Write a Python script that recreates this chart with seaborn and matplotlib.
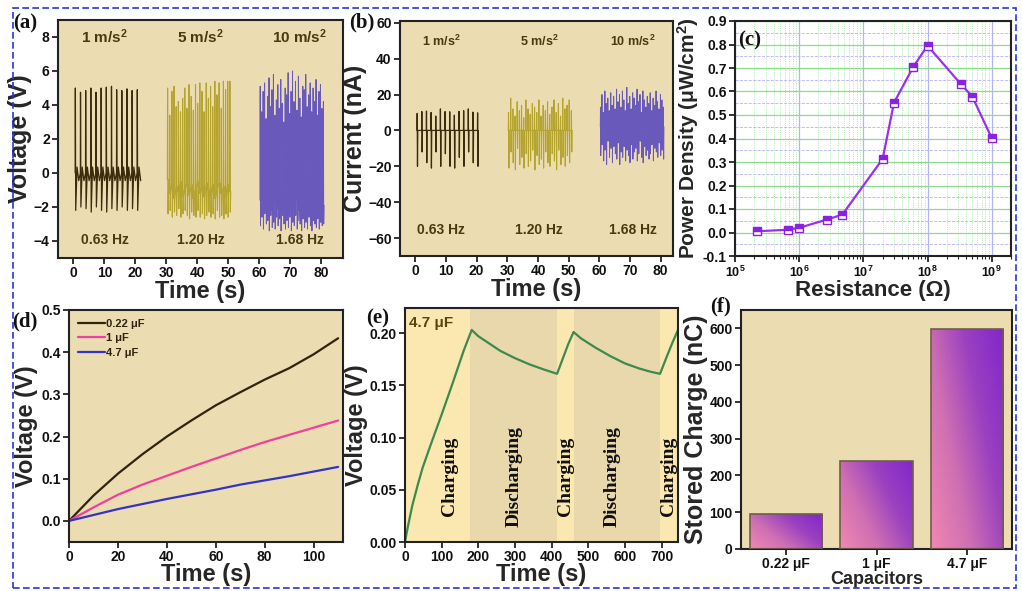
import numpy as np
import pandas as pd
import matplotlib
matplotlib.use("Agg")
import matplotlib.pyplot as plt
import seaborn as sns
from matplotlib.patches import Rectangle
from matplotlib.ticker import MultipleLocator, FormatStrFormatter, LogLocator, NullFormatter
from matplotlib.colors import LinearSegmentedColormap

# ---------------- data ----------------
acc_labels = ["1 m/s$^\\mathbf{2}$", "5 m/s$^\\mathbf{2}$", "10 m/s$^\\mathbf{2}$"]
freq_labels = ["0.63 Hz", "1.20 Hz", "1.68 Hz"]
label_time = [10, 41, 73]

# (a) voltage bursts
a1_peaks = [5.0, 4.75, 4.85, 5.0, 4.75, 5.0, 5.05, 5.1, 4.9, 4.85, 4.95, 4.85, 4.9]
a1_troughs = [-2.2, -2.0, -2.1, -2.3, -2.0, -2.2, -2.3, -2.1, -2.2, -2.0, -2.2, -2.1, -2.2]
a2_peaks = [5.0, 3.4, 4.8, 5.1, 3.9, 4.2, 3.6, 4.4, 5.0, 3.8, 5.2, 4.5, 3.7, 5.2, 4.1,
            5.3, 4.8, 3.6, 5.3, 4.4, 5.1, 3.9, 5.4, 4.6, 5.3, 3.8, 5.4, 4.9, 5.4, 5.4]
a2_troughs = [-2.4, -2.2, -2.6, -2.3, -2.5, -2.1, -2.6, -2.4, -2.2, -2.5, -2.7, -2.3, -2.5, -2.6, -2.2,
              -2.6, -2.4, -2.7, -2.5, -2.3, -2.6, -2.4, -2.7, -2.2, -2.6, -2.5, -2.7, -2.4, -2.6, -2.3]
a2_base = [-0.4, -1.2, -0.6, -1.5, -0.8, -1.1, -0.5, -1.4, -0.9, -0.6, -1.3, -0.7, -1.5, -0.9, -0.5,
           -1.2, -0.8, -1.4, -0.6, -1.0, -1.3, -0.7, -1.5, -0.9, -0.6, -1.2, -0.8, -1.4, -0.7, -1.1]
a3_peaks = [5.1, 3.6, 4.8, 5.3, 3.2, 4.5, 5.6, 3.9, 4.9, 5.8, 3.4, 4.3, 5.2, 3.8, 5.5, 4.1, 3.0, 5.0,
            4.6, 5.9, 3.5, 4.8, 6.0, 4.2, 5.4, 3.7, 5.7, 4.4, 3.3, 5.1, 4.9, 5.8, 3.9, 4.6, 5.3, 3.6,
            5.0, 4.2, 5.5, 3.4, 4.8, 5.2, 3.8, 4.2]
a3_troughs = [-3.1, -2.6, -3.3, -2.4, -3.0, -2.8, -3.4, -2.5, -3.2, -2.9, -3.3, -2.6, -3.1, -2.7, -3.4,
              -2.5, -3.0, -3.3, -2.8, -3.2, -2.6, -3.4, -2.9, -3.1, -2.5, -3.3, -2.8, -3.0, -3.4, -2.7,
              -3.2, -2.9, -3.3, -2.6, -3.1, -3.4, -2.8, -3.0, -3.2, -2.7, -3.3, -2.9, -3.1, -3.0]
a3_base = [-1.6, -0.8, -2.0, -1.2, -0.6, -1.9, -1.4, -0.9, -2.2, -1.1, -1.7, -0.7, -2.1, -1.3, -0.9,
           -1.8, -1.5, -2.3, -1.0, -1.6, -0.8, -2.0, -1.2, -1.9, -0.7, -1.5, -2.2, -1.1, -1.7, -0.9,
           -2.0, -1.3, -1.6, -0.8, -2.1, -1.4, -1.0, -1.8, -1.2, -2.0, -0.9, -1.6, -1.3, -1.9]

# (b) current bursts
b1_peaks = [9.5, 10.5, 10.8, 10.0, 8.0, 12.0, 10.5, 10.4, 8.5, 10.6, 11.0, 12.0, 10.2, 9.8]
b1_troughs = [-20, -12, -18, -21, -12, -20, -13, -20, -21, -15, -20, -12, -18, -20]
b2_peaks = [10, 18, 12, 8, 16, 11, 14, 7, 17, 12, 9, 15, 13, 10, 17, 8, 14, 11, 16, 9,
            13, 17, 10, 15, 8, 18, 12, 14, 17, 11]
b2_troughs = [-21, -12, -18, -22, -10, -19, -15, -21, -13, -20, -17, -11, -22, -14, -19,
              -16, -21, -12, -18, -20, -13, -17, -22, -11, -19, -15, -20, -14, -18, -12]
b3_peaks = [13, 20, 10, 22, 15, 18, 11, 21, 14, 19, 12, 23, 16, 20, 13, 22, 17, 11, 24, 15, 19, 12,
            21, 18, 14, 23, 16, 20, 10, 22, 17, 13, 19, 15, 21, 11, 18, 14, 22, 16, 12, 20, 17, 13]
b3_troughs = [-14, -8, -17, -11, -19, -6, -15, -10, -18, -9, -13, -16, -7, -19, -12, -15, -9, -17,
              -11, -14, -18, -8, -16, -12, -10, -17, -13, -6, -15, -18, -9, -14, -11, -16, -13, -8,
              -17, -10, -12, -15, -7, -14, -11, -16]

# (c) power density vs load resistance
resistance = [2.2e5, 6.8e5, 1e6, 2.7e6, 4.7e6, 2e7, 3e7, 6e7, 1e8, 3.3e8, 5e8, 1e9]
power_density = [0.005, 0.012, 0.02, 0.055, 0.076, 0.313, 0.552, 0.705, 0.795, 0.632, 0.578, 0.402]

# (d) capacitor charging
d_time = [0, 10, 20, 30, 40, 50, 60, 70, 80, 90, 100, 110]
v_022 = [0.0, 0.060, 0.112, 0.158, 0.200, 0.238, 0.274, 0.305, 0.335, 0.362, 0.395, 0.433]
v_1 = [0.0, 0.032, 0.062, 0.086, 0.107, 0.128, 0.148, 0.168, 0.187, 0.204, 0.221, 0.238]
v_47 = [0.0, 0.014, 0.028, 0.040, 0.052, 0.063, 0.074, 0.086, 0.096, 0.106, 0.117, 0.128]
d_caps = ["0.22 μF", "1 μF", "4.7 μF"]

# (e) charge / discharge of 4.7 uF
e_time = [0, 8, 20, 35, 48, 70, 100, 130, 160, 182,
          200, 230, 260, 300, 340, 380, 415,
          430, 445, 460,
          480, 520, 560, 600, 640, 670, 696,
          715, 730, 745]
e_volt = [0.0, 0.015, 0.035, 0.055, 0.071, 0.093, 0.122, 0.152, 0.183, 0.203,
          0.197, 0.190, 0.183, 0.176, 0.170, 0.165, 0.161,
          0.175, 0.189, 0.201,
          0.195, 0.186, 0.178, 0.171, 0.166, 0.163, 0.161,
          0.178, 0.191, 0.203]
phase_edges = [0, 178, 416, 460, 696, 745]
phase_names = ["Charging", "Discharging", "Charging", "Discharging", "Charging"]
phase_label_x = [121, 298, 437, 565, 718]

# (f) stored charge
capacitors = ["0.22 μF", "1 μF", "4.7 μF"]
stored_charge = [95, 238, 597]

# ---------------- style ----------------
sns.set_style("ticks")
plt.rcParams["font.family"] = ["Liberation Sans", "DejaVu Sans"]
plt.rcParams["font.weight"] = "bold"
plt.rcParams["axes.labelweight"] = "bold"
plt.rcParams["mathtext.fontset"] = "custom"
plt.rcParams["mathtext.rm"] = "Liberation Sans:bold"
plt.rcParams["mathtext.bf"] = "Liberation Sans:bold"
plt.rcParams["mathtext.it"] = "Liberation Sans:italic:bold"

TAN = "#ebdcb2"
TXT = "#4a3a12"
W, H = 1022, 591

fig = plt.figure(figsize=(W / 100, H / 100), dpi=100)


def add_ax(l, t, r, b):
    return fig.add_axes([l / W, 1 - b / H, (r - l) / W, (b - t) / H])


def style(ax, bg):
    ax.set_facecolor(bg)
    for sp in ax.spines.values():
        sp.set_visible(True)
        sp.set_linewidth(1.5)
        sp.set_color("#222222")
    ax.tick_params(direction="out", length=4, width=1.2, labelsize=10, pad=2, colors="#111111")


def burst(t0, t1, peaks, troughs, bases, offs):
    xs, ys = [], []
    times = np.linspace(t0, t1, len(peaks))
    for t, p, tr, b in zip(times, peaks, troughs, bases):
        for dt, v in zip(offs, (b, p, tr, b)):
            xs.append(t + dt)
            ys.append(v)
    return np.array(xs), np.array(ys)


def burst1(t0, t1, peaks, troughs, bump, dip):
    xs, ys = [], []
    times = np.linspace(t0, t1, len(peaks))
    for t, p, tr in zip(times, peaks, troughs):
        xs += [t - 0.05, t, t + 0.12, t + 0.55, t + 1.1]
        ys += [0.0, p, tr, bump, dip]
    return np.array(xs), np.array(ys)


C1, C2, C3 = "#3b2c0d", "#a8960f", "#3d2dbf"

# ---------------- (a) ----------------
axa = add_ax(58, 20, 343, 258)
style(axa, TAN)
x, y = burst1(0.6, 20.6, a1_peaks, a1_troughs, 0.35, -0.45)
sns.lineplot(x=x, y=y, sort=False, estimator=None, color=C1, lw=0.9, ax=axa)
x, y = burst(30.3, 50.4, a2_peaks, a2_troughs, a2_base, (0, 0.08, 0.22, 0.36))
sns.lineplot(x=x, y=y, sort=False, estimator=None, color=C2, lw=0.8, alpha=0.8, ax=axa)
x, y = burst(60.2, 80.6, a3_peaks, a3_troughs, a3_base, (0, 0.07, 0.17, 0.27))
sns.lineplot(x=x, y=y, sort=False, estimator=None, color=C3, lw=0.7, alpha=0.75, ax=axa)
axa.set_xlim(-5, 87)
axa.set_ylim(-5, 9)
axa.set_xticks(range(0, 81, 10))
axa.set_yticks(range(-4, 9, 2))
for xt, s, f in zip(label_time, acc_labels, freq_labels):
    axa.text(xt, 8.0, s, ha="center", va="center", fontsize=11, color=TXT)
    axa.text(xt, -3.95, f, ha="center", va="center", fontsize=10, color=TXT)
axa.set_xlabel("Time (s)", fontsize=17, labelpad=0)
axa.set_ylabel("Voltage (V)", fontsize=18, labelpad=1)

# ---------------- (b) ----------------
axb = add_ax(400, 21, 673, 256)
style(axb, TAN)
x, y = burst(0.6, 20.3, b1_peaks, b1_troughs, [0.0] * len(b1_peaks), (-0.05, 0.0, 0.1, 0.2))
sns.lineplot(x=x, y=y, sort=False, estimator=None, color=C1, lw=0.9, ax=axb)
x, y = burst(30.3, 50.8, b2_peaks, b2_troughs, [0.0] * len(b2_peaks), (0, 0.08, 0.2, 0.3))
sns.lineplot(x=x, y=y, sort=False, estimator=None, color=C2, lw=0.8, alpha=0.8, ax=axb)
x, y = burst(60.3, 80.8, b3_peaks, b3_troughs, [2.0] * len(b3_peaks), (0, 0.06, 0.15, 0.24))
sns.lineplot(x=x, y=y, sort=False, estimator=None, color=C3, lw=0.7, alpha=0.75, ax=axb)
axb.set_xlim(-5, 84)
axb.set_ylim(-70, 61)
axb.set_xticks(range(0, 81, 10))
axb.set_yticks(range(-60, 61, 20))
for xt, s, f in zip([8.5, 40.3, 71], acc_labels, freq_labels):
    axb.text(xt, 49.5, s, ha="center", va="center", fontsize=9, color=TXT)
    axb.text(xt, -55.6, f, ha="center", va="center", fontsize=10, color=TXT)
axb.set_xlabel("Time (s)", fontsize=17, labelpad=0)
axb.set_ylabel("Current (nA)", fontsize=18, labelpad=1)

# ---------------- (c) ----------------
axc = add_ax(735, 21, 1011, 256)
style(axc, "white")
axc.set_xscale("log")
axc.set_xlim(1e5, 2e9)
axc.set_ylim(-0.1, 0.9)
axc.yaxis.set_major_locator(MultipleLocator(0.1))
axc.yaxis.set_minor_locator(MultipleLocator(0.05))
axc.yaxis.set_major_formatter(FormatStrFormatter("%.1f"))
axc.xaxis.set_major_locator(LogLocator(base=10, numticks=10))
axc.xaxis.set_minor_locator(LogLocator(base=10, subs=np.arange(2, 10), numticks=20))
axc.xaxis.set_minor_formatter(NullFormatter())
axc.grid(which="major", axis="x", color="#b4b4f0", lw=0.9)
axc.grid(which="minor", axis="x", color="#9ee29e", lw=0.6, ls=":")
axc.grid(which="major", axis="y", color="#8edc8e", lw=0.9)
axc.grid(which="minor", axis="y", color="#b4b4f0", lw=0.6, ls="--")
axc.set_axisbelow(True)
sns.lineplot(x=resistance, y=power_density, color="#9a2ff0", lw=1.6, marker="s", markersize=6,
             fillstyle="top", markerfacecoloralt="white", markeredgecolor="#8a20e0",
             markerfacecolor="#8a20e0", markeredgewidth=1.0, ax=axc)
axc.tick_params(axis="x", which="major", labelsize=9)
axc.tick_params(axis="x", which="minor", length=2.5, width=0.8)
axc.tick_params(axis="y", which="minor", length=0)
axc.set_xlabel("Resistance (Ω)", fontsize=16, labelpad=0)
axc.set_ylabel("Power Density (μW/cm$^\\mathbf{2}$)", fontsize=15, labelpad=1)

# ---------------- (d) ----------------
axd = add_ax(69, 310, 343, 542)
style(axd, TAN)
df_d = pd.DataFrame({
    "t": d_time * 3,
    "v": v_022 + v_1 + v_47,
    "cap": [d_caps[0]] * len(d_time) + [d_caps[1]] * len(d_time) + [d_caps[2]] * len(d_time),
})
sns.lineplot(data=df_d, x="t", y="v", hue="cap", palette=["#2e2410", "#f0409c", "#3434c4"],
             lw=1.6, ax=axd)
axd.set_xlim(0, 112)
axd.set_ylim(-0.05, 0.5)
axd.set_xticks(range(0, 101, 20))
axd.yaxis.set_major_locator(MultipleLocator(0.1))
axd.yaxis.set_major_formatter(FormatStrFormatter("%.1f"))
leg = axd.legend(loc="upper left", frameon=False, handlelength=2.4, handletextpad=0.1,
                 labelspacing=0.4, borderaxespad=0.4, prop={"size": 8, "weight": "bold"})
for t in leg.get_texts():
    t.set_color("#2e2410")
axd.set_xlabel("Time (s)", fontsize=17, labelpad=-1)
axd.set_ylabel("Voltage (V)", fontsize=17, labelpad=2)

# ---------------- (e) ----------------
axe = add_ax(405, 308, 678, 542)
style(axe, TAN)
for i, name in enumerate(phase_names):
    col = "#fbe7b0" if name == "Charging" else "#e8d8ac"
    axe.axvspan(phase_edges[i], phase_edges[i + 1], color=col, lw=0, zorder=0)
    axe.text(phase_label_x[i], 0.063, name, rotation=90, ha="center", va="center",
             fontsize=14, family=["Liberation Serif", "DejaVu Serif"], weight="bold",
             color="#111111", zorder=3)
sns.lineplot(x=e_time, y=e_volt, sort=False, estimator=None, color="#3b8a4f", lw=1.6, ax=axe)
axe.set_xlim(0, 745)
axe.set_ylim(0, 0.224)
axe.set_xticks(range(0, 701, 100))
axe.yaxis.set_major_locator(MultipleLocator(0.05))
axe.yaxis.set_major_formatter(FormatStrFormatter("%.2f"))
axe.text(0.015, 0.965, "4.7 μF", transform=axe.transAxes, ha="left", va="top",
         fontsize=11, color="#5a4510")
axe.set_xlabel("Time (s)", fontsize=17, labelpad=-1)
axe.set_ylabel("Voltage (V)", fontsize=17, labelpad=1)

# ---------------- (f) ----------------
axf = add_ax(741, 310, 1012, 549)
style(axf, TAN)
sns.barplot(x=capacitors, y=stored_charge, color="#c060b0", edgecolor="#6e5e48",
            linewidth=1.2, width=0.8, ax=axf)
cmap = LinearSegmentedColormap.from_list("grad", ["#f088b2", "#d070b2", "#9a40c0", "#8226cc"])
u = np.linspace(0, 1, 80)[None, :]
v = np.linspace(0, 1, 80)[:, None]
grad = 0.62 * u + 0.38 * v
for p in axf.patches:
    x0, y0, w, h = p.get_x(), p.get_y(), p.get_width(), p.get_height()
    im = axf.imshow(grad, extent=[x0, x0 + w, y0, y0 + h], origin="lower", cmap=cmap,
                    aspect="auto", interpolation="bicubic", zorder=2)
    im.set_clip_path(p)
    p.set_facecolor("none")
    p.set_zorder(3)
axf.set_aspect("auto")
axf.set_xlim(-0.5, 2.5)
axf.set_ylim(0, 650)
axf.set_yticks(range(0, 601, 100))
axf.set_xlabel("Capacitors", fontsize=13, labelpad=0)
axf.set_ylabel("Stored Charge (nC)", fontsize=18, labelpad=1)

# ---------------- panel letters & frame ----------------
serif = ["Liberation Serif", "DejaVu Serif"]
for s, px, py in [("(a)", 13, 28), ("(b)", 349, 27), ("(c)", 738, 45),
                  ("(d)", 12, 326), ("(e)", 366, 323), ("(f)", 710, 311)]:
    fig.text(px / W, 1 - py / H, s, family=serif, weight="bold", fontsize=15,
             ha="left", va="baseline", color="#111111")

fig.patches.append(Rectangle((13 / W, 1 - 588 / H), (1016 - 13) / W, (588 - 8) / H,
                             transform=fig.transFigure, fill=False, edgecolor="#2436e0",
                             ls=(0, (4, 2)), lw=1.2))

fig.savefig("out.png", dpi=100)
